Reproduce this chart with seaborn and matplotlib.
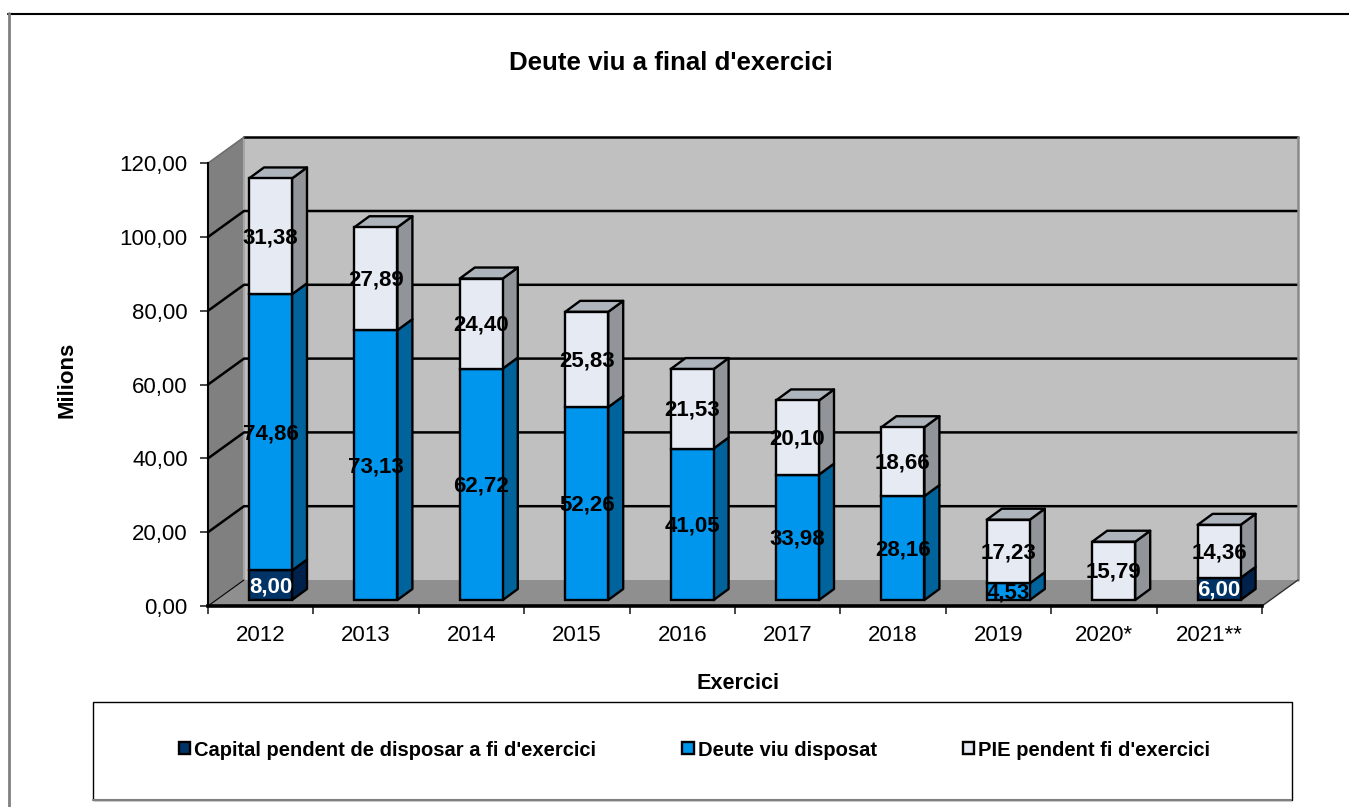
import matplotlib
matplotlib.use("Agg")
import matplotlib.pyplot as plt
import matplotlib.transforms as mtransforms
from matplotlib.lines import Line2D
from matplotlib.patches import Patch, Polygon, Rectangle
import numpy as np
import pandas as pd
import seaborn as sns

years = ["2012", "2013", "2014", "2015", "2016", "2017", "2018", "2019", "2020*", "2021**"]
capital = [8.00, 0, 0, 0, 0, 0, 0, 0, 0, 6.00]
deute = [74.86, 73.13, 62.72, 52.26, 41.05, 33.98, 28.16, 4.53, 0, 0]
pie = [31.38, 27.89, 24.40, 25.83, 21.53, 20.10, 18.66, 17.23, 15.79, 14.36]
series_names = ["Capital pendent de disposar a fi d'exercici", "Deute viu disposat", "PIE pendent fi d'exercici"]
yticks = [0, 20, 40, 60, 80, 100, 120]

front_colors = ["#003366", "#0096EE", "#E6EAF2"]
side_colors = ["#00214A", "#00639C", "#919599"]
top_color = "#AEB4BB"
label_colors = ["white", "black", "black"]

sns.set_theme(style="white")
plt.rcParams["font.family"] = ["Liberation Sans", "DejaVu Sans"]
plt.rcParams["axes.edgecolor"] = "black"

W, H = 1349, 807
L, R, B, T = 208, 1262, 606, 163.2   # front plane of the chart, in pixels
fig = plt.figure(figsize=(W / 100, H / 100), dpi=100)
ax = fig.add_axes([L / W, 1 - B / H, (R - L) / W, (B - T) / H])

df = pd.DataFrame({"year": years, "capital": capital, "deute": deute, "pie": pie})
bottoms = [np.zeros(10), np.array(capital), np.array(capital) + np.array(deute)]

unit_x = (R - L) / 10
unit_y = (B - T) / 120

for col, color, bottom in zip(["capital", "deute", "pie"], front_colors, bottoms):
    sns.barplot(data=df, x="year", y=col, order=years, color=color, saturation=1, width=43 / unit_x,
                bottom=bottom, edgecolor="black", linewidth=1.7, ax=ax, zorder=3)

ax.set_xlim(-0.5, 9.5)
ax.set_ylim(0, 120)

# bars stand a bit behind the front plane
bar_trans = mtransforms.offset_copy(ax.transData, fig=fig, x=9.8, y=6, units="dots")
label_trans = mtransforms.offset_copy(ax.transData, fig=fig, x=9.8, y=4.5, units="dots")
bar_dx = 15 / unit_x
bar_dy = 11 / unit_y


def poly(pts, color, edge="none", lw=0, z=1, trans=None):
    ax.add_patch(Polygon(pts, closed=True, facecolor=color, edgecolor=edge, linewidth=lw,
                         clip_on=False, zorder=z, joinstyle="round",
                         transform=ax.transData if trans is None else trans))


# walls and floor
dx = 36 / unit_x
dy = 26 / unit_y
x0, x1 = -0.5, 9.5
poly([(x0, 0), (x0 + dx, dy), (x0 + dx, 120 + dy), (x0, 120)], "#808080", z=0.5)
poly([(x0 + dx, dy), (x1 + dx, dy), (x1 + dx, 120 + dy), (x0 + dx, 120 + dy)], "#C0C0C0", z=0.5)
poly([(x0, 0), (x1, 0), (x1 + dx, dy), (x0 + dx, dy)], "#8F8F8F", z=0.6)

for v in yticks[1:-1]:
    ax.plot([x0, x0 + dx, x1 + dx], [v, v + dy, v + dy], color="black", lw=1.8, clip_on=False, zorder=1)
ax.plot([x0 + dx, x1 + dx], [120 + dy, 120 + dy], color="black", lw=1.8, clip_on=False, zorder=1)
ax.plot([x0, x0 + dx], [120, 120 + dy], color="#6E6E6E", lw=1.2, clip_on=False, zorder=1)
ax.plot([x0 + dx, x0 + dx], [dy, 120 + dy], color="#A6A6A6", lw=1.5, clip_on=False, zorder=0.9)
ax.plot([x1 + dx, x1 + dx], [120 + dy, dy], color="#8A8A8A", lw=1.8, clip_on=False, zorder=1)
ax.plot([x1 + dx, x1], [dy, 0], color="#303030", lw=1, clip_on=False, zorder=1)
ax.plot([x0, x0 + dx], [0, dy], color="black", lw=0.8, clip_on=False, zorder=1)

# side and top faces, labels, all taken from the bars seaborn drew
values = [capital, deute, pie]
for s, container in enumerate(ax.containers):
    for i, p in enumerate(container.patches):
        p.set_transform(bar_trans)
        p.set_clip_on(False)
        h = p.get_height()
        if h == 0:
            p.set_visible(False)
            continue
        xl, xr = p.get_x(), p.get_x() + p.get_width()
        yb, yt = p.get_y(), p.get_y() + h
        poly([(xr, yb), (xr + bar_dx, yb + bar_dy), (xr + bar_dx, yt + bar_dy), (xr, yt)],
             side_colors[s], "black", 1.7, 2.5, bar_trans)
        if s == 2:
            poly([(xl, yt), (xl + bar_dx, yt + bar_dy), (xr + bar_dx, yt + bar_dy), (xr, yt)],
                 top_color, "black", 1.7, 2.5, bar_trans)
        ax.text((xl + xr) / 2, (yb + yt) / 2, f"{values[s][i]:.2f}".replace(".", ","), ha="center", va="center",
                fontsize=16, fontweight="bold", color=label_colors[s], transform=label_trans, zorder=5, clip_on=False)

# axes
sns.despine(ax=ax)
ax.spines["left"].set_linewidth(1.5)
ax.spines["bottom"].set_linewidth(2.6)
ax.spines["left"].set_zorder(2)
ax.spines["bottom"].set_zorder(2)
ax.set_yticks(yticks)
ax.set_yticklabels([f"{v},00" for v in yticks], fontsize=16, color="black")
ax.set_xticks(range(10))
ax.set_xticklabels(years, fontsize=16, color="black")
ax.set_xticks(np.arange(-0.5, 10, 1), minor=True)
ax.tick_params(axis="y", which="major", length=5.5, width=1.2, left=True, pad=9)
ax.tick_params(axis="x", which="major", length=0, pad=14)
ax.tick_params(axis="x", which="minor", length=6, width=1.2, bottom=True)

ax.set_title("Deute viu a final d'exercici", fontsize=18.6, fontweight="bold", color="black",
             x=(671 - L) / (R - L), y=(B - 73) / (B - T) - 5 / (B - T))
ax.set_xlabel("Exercici", fontsize=15.6, fontweight="bold", color="black")
ax.xaxis.set_label_coords((738 - L) / (R - L), (B - 673) / (B - T))
ax.set_ylabel("Milions", fontsize=16, fontweight="bold", color="black")
ax.yaxis.set_label_coords((78 - L) / (R - L), (B - 380) / (B - T))

# outer frame and legend box, in pixels
pix = mtransforms.Affine2D().scale(1 / W, -1 / H).translate(0, 1) + fig.transFigure
fig.add_artist(Line2D([8, W], [13.5, 13.5], color="black", lw=1.5, transform=pix))
fig.add_artist(Line2D([8.5, 8.5], [13, H], color="#808080", lw=2, transform=pix))
fig.add_artist(Line2D([93, 1291], [800, 800], color="#808080", lw=1.5, transform=pix))
fig.add_artist(Rectangle((92.5, 701.5), 1199, 98, facecolor="white", edgecolor="black", lw=1, transform=pix))

handles = [Patch(facecolor=c, edgecolor="black", linewidth=1.7) for c in front_colors]
fig.legend(handles, series_names, ncol=3, loc="center", bbox_to_anchor=(694.5 / W, 1 - 750 / H),
           frameon=False, prop={"size": 14.5, "weight": "bold"}, handlelength=0.55, handleheight=0.55,
           handletextpad=0.2, columnspacing=4.3, labelcolor="black")

fig.savefig("out.png", dpi=100)
